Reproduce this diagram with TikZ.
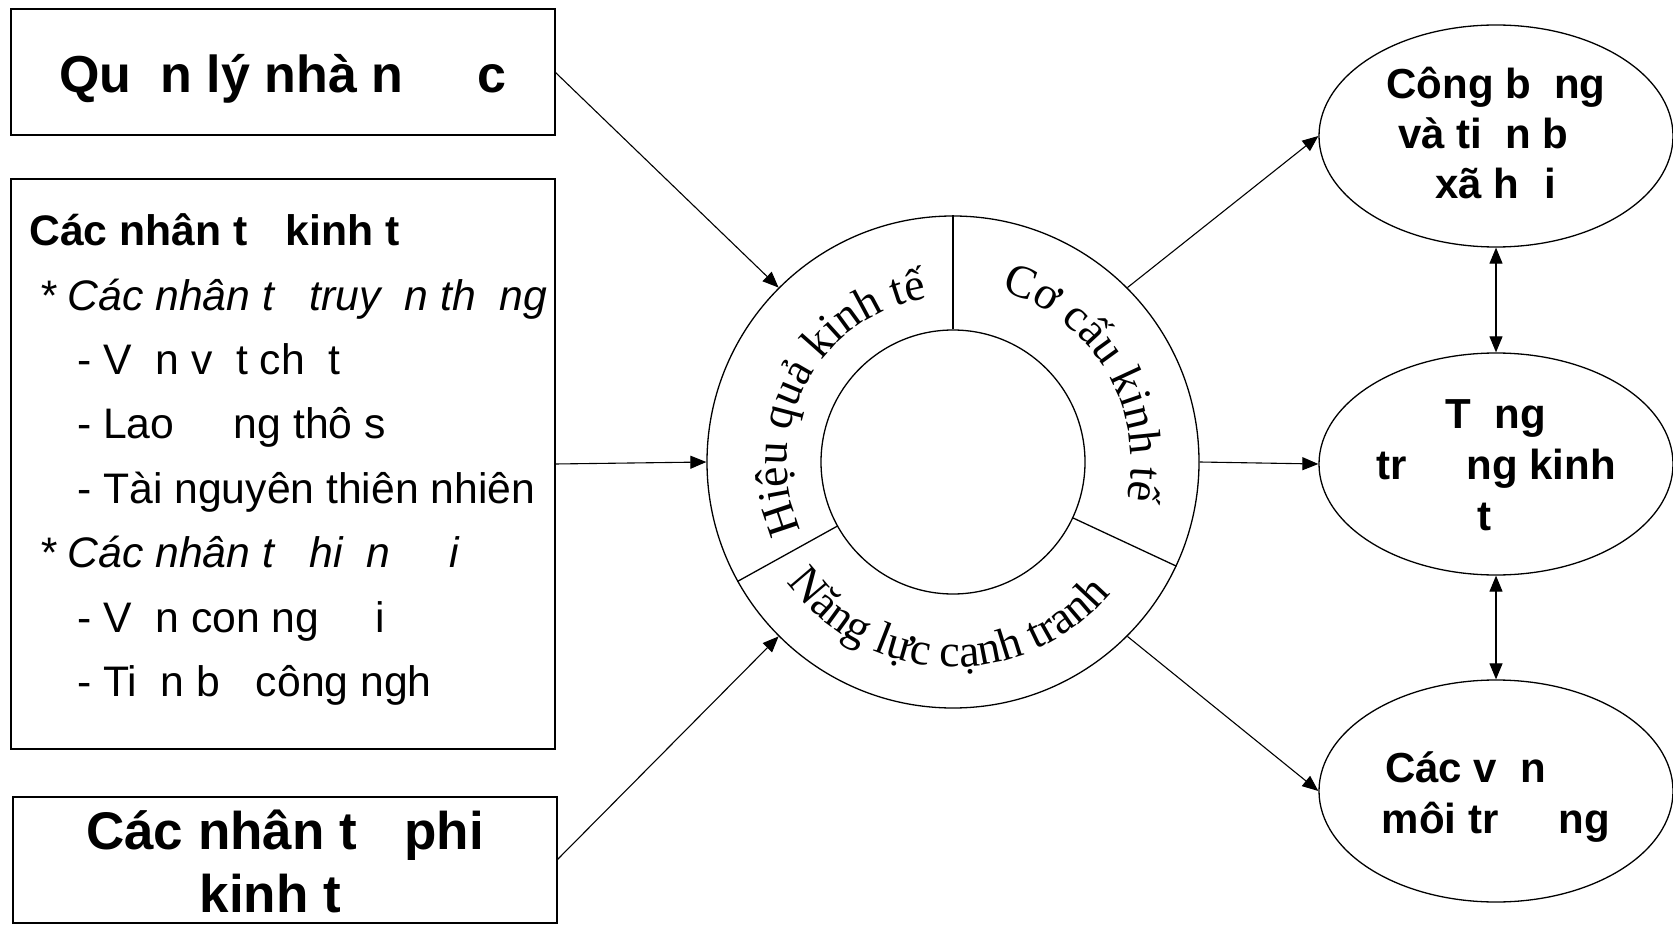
\documentclass[tikz,border=0pt]{standalone}
\usepackage{fontspec}
\setmainfont{Liberation Sans}
\newfontfamily\curvefont{Liberation Serif}
\usetikzlibrary{arrows.meta,shapes.geometric,decorations.text}
\newcommand{\cfont}{\curvefont\fontsize{46}{46}\selectfont}
\tikzset{
  box/.style={draw, line width=1.5pt, inner sep=0pt, outer sep=0pt},
  ring/.style={draw, circle, line width=1.3pt, inner sep=0pt},
  oval/.style={draw, ellipse, line width=1.3pt, minimum width=354pt, minimum height=222pt, inner sep=0pt},
  conn/.style={line width=1.1pt, -{Triangle[length=16pt,width=13pt]}},
  dconn/.style={line width=1.1pt, {Triangle[length=16pt,width=13pt]}-{Triangle[length=16pt,width=13pt]}},
  lbl/.style={inner sep=0pt, anchor=base},
  item/.style={inner sep=0pt, anchor=base west, font=\fontsize{42.7}{50}\selectfont},
  big/.style={lbl, font=\fontsize{52}{64}\selectfont\bfseries},
  bigb/.style={lbl, font=\fontsize{53}{64}\selectfont\bfseries},
  ovtxt/.style={lbl, font=\fontsize{42}{50}\selectfont\bfseries},
  arctext/.style={decorate, decoration={text along path, text align=center, text={|\cfont|#1}}},
}
\begin{document}
\begin{tikzpicture}[x=1pt,y=1pt]
\useasboundingbox (0,0) rectangle (1673,-925);
\fill[white] (0,0) rectangle (1673,-925);

% left boxes
\node[box, minimum width=544pt, minimum height=126pt] (b1) at (283,-72) {};
\node[big] (t1) at (283,-93) {Qu\phantom{ả}n lý nhà n\phantom{ướ}c};

\node[box, minimum width=544pt, minimum height=570pt] (b2) at (283,-464) {};
\node[item, font=\fontsize{42.7}{50}\selectfont\bfseries] (k1) at (29,-246) {Các nhân t\phantom{ố} kinh t\phantom{ế}};
\node[item, font=\fontsize{42.7}{50}\selectfont\itshape] (k2) at (39,-310) {* Các nhân t\phantom{ố} truy\phantom{ề}n th\phantom{ố}ng};
\node[item] (k3) at (77,-374) {- V\phantom{ố}n v\phantom{ậ}t ch\phantom{ấ}t};
\node[item] (k4) at (77,-438) {- Lao \phantom{độ}ng thô s\phantom{ơ}};
\node[item] (k5) at (77,-503) {- Tài nguyên thiên nhiên};
\node[item, font=\fontsize{42.7}{50}\selectfont\itshape] (k6) at (39,-567) {* Các nhân t\phantom{ố} hi\phantom{ệ}n \phantom{đạ}i};
\node[item] (k7) at (77,-632) {- V\phantom{ố}n con ng\phantom{ườ}i};
\node[item] (k8) at (77,-696) {- Ti\phantom{ế}n b\phantom{ộ} công ngh\phantom{ệ}};

\node[box, minimum width=544pt, minimum height=126pt] (b3) at (285,-860) {};
\node[bigb] (t3a) at (285,-849) {Các nhân t\phantom{ố} phi};
\node[bigb] (t3b) at (285,-912) {kinh t\phantom{ế}};

% central ring
\node[ring, minimum size=492pt] (ring) at (953,-462) {};
\node[ring, minimum size=264pt] (hub) at (953,-462) {};
\draw[line width=1.3pt] (hub.90) -- (ring.90);
\draw[line width=1.3pt] (hub.209) -- (ring.209);
\draw[line width=1.3pt] (hub.335) -- (ring.335);

\path[arctext={Hiệu quả kinh tế}] (953,-462) ++(211:166) arc[start angle=211, end angle=92, radius=166];
\path[arctext={Cơ cấu kinh tế}] (953,-462) ++(89:178) arc[start angle=89, end angle=-27, radius=178];
\path[arctext={Năng lực cạnh tranh}] (953,-462) ++(205:205) arc[start angle=205, end angle=331, radius=205];

% right ellipses
\node[oval] (e1) at (1496,-136) {};
\node[ovtxt] (e1a) at (1496,-99) {Công b\phantom{ằ}ng};
\node[ovtxt] (e1b) at (1496,-149) {và ti\phantom{ế}n b\phantom{ộ}};
\node[ovtxt] (e1c) at (1496,-199) {xã h\phantom{ộ}i};

\node[oval] (e2) at (1496,-464) {};
\node[ovtxt] (e2a) at (1496,-428) {T\phantom{ă}ng};
\node[ovtxt] (e2b) at (1496,-479) {tr\phantom{ưở}ng kinh};
\node[ovtxt] (e2c) at (1496,-530) {t\phantom{ế}};

\node[oval] (e3) at (1496,-791) {};
\node[ovtxt] (e3a) at (1496,-782) {Các v\phantom{ấ}n \phantom{đề}};
\node[ovtxt] (e3b) at (1496,-833) {môi tr\phantom{ườ}ng};

% connectors
\draw[conn] (b1.east) -- (ring.135);
\draw[conn] (b2.east) -- (ring.west);
\draw[conn] (b3.east) -- (ring.225);
\draw[conn] (ring.45) -- (e1.west);
\draw[conn] (ring.east) -- (e2.west);
\draw[conn] (ring.-45) -- (e3.west);
\draw[dconn] (e1.south) -- (e2.north);
\draw[dconn] (e2.south) -- (e3.north);
\end{tikzpicture}
\end{document}
